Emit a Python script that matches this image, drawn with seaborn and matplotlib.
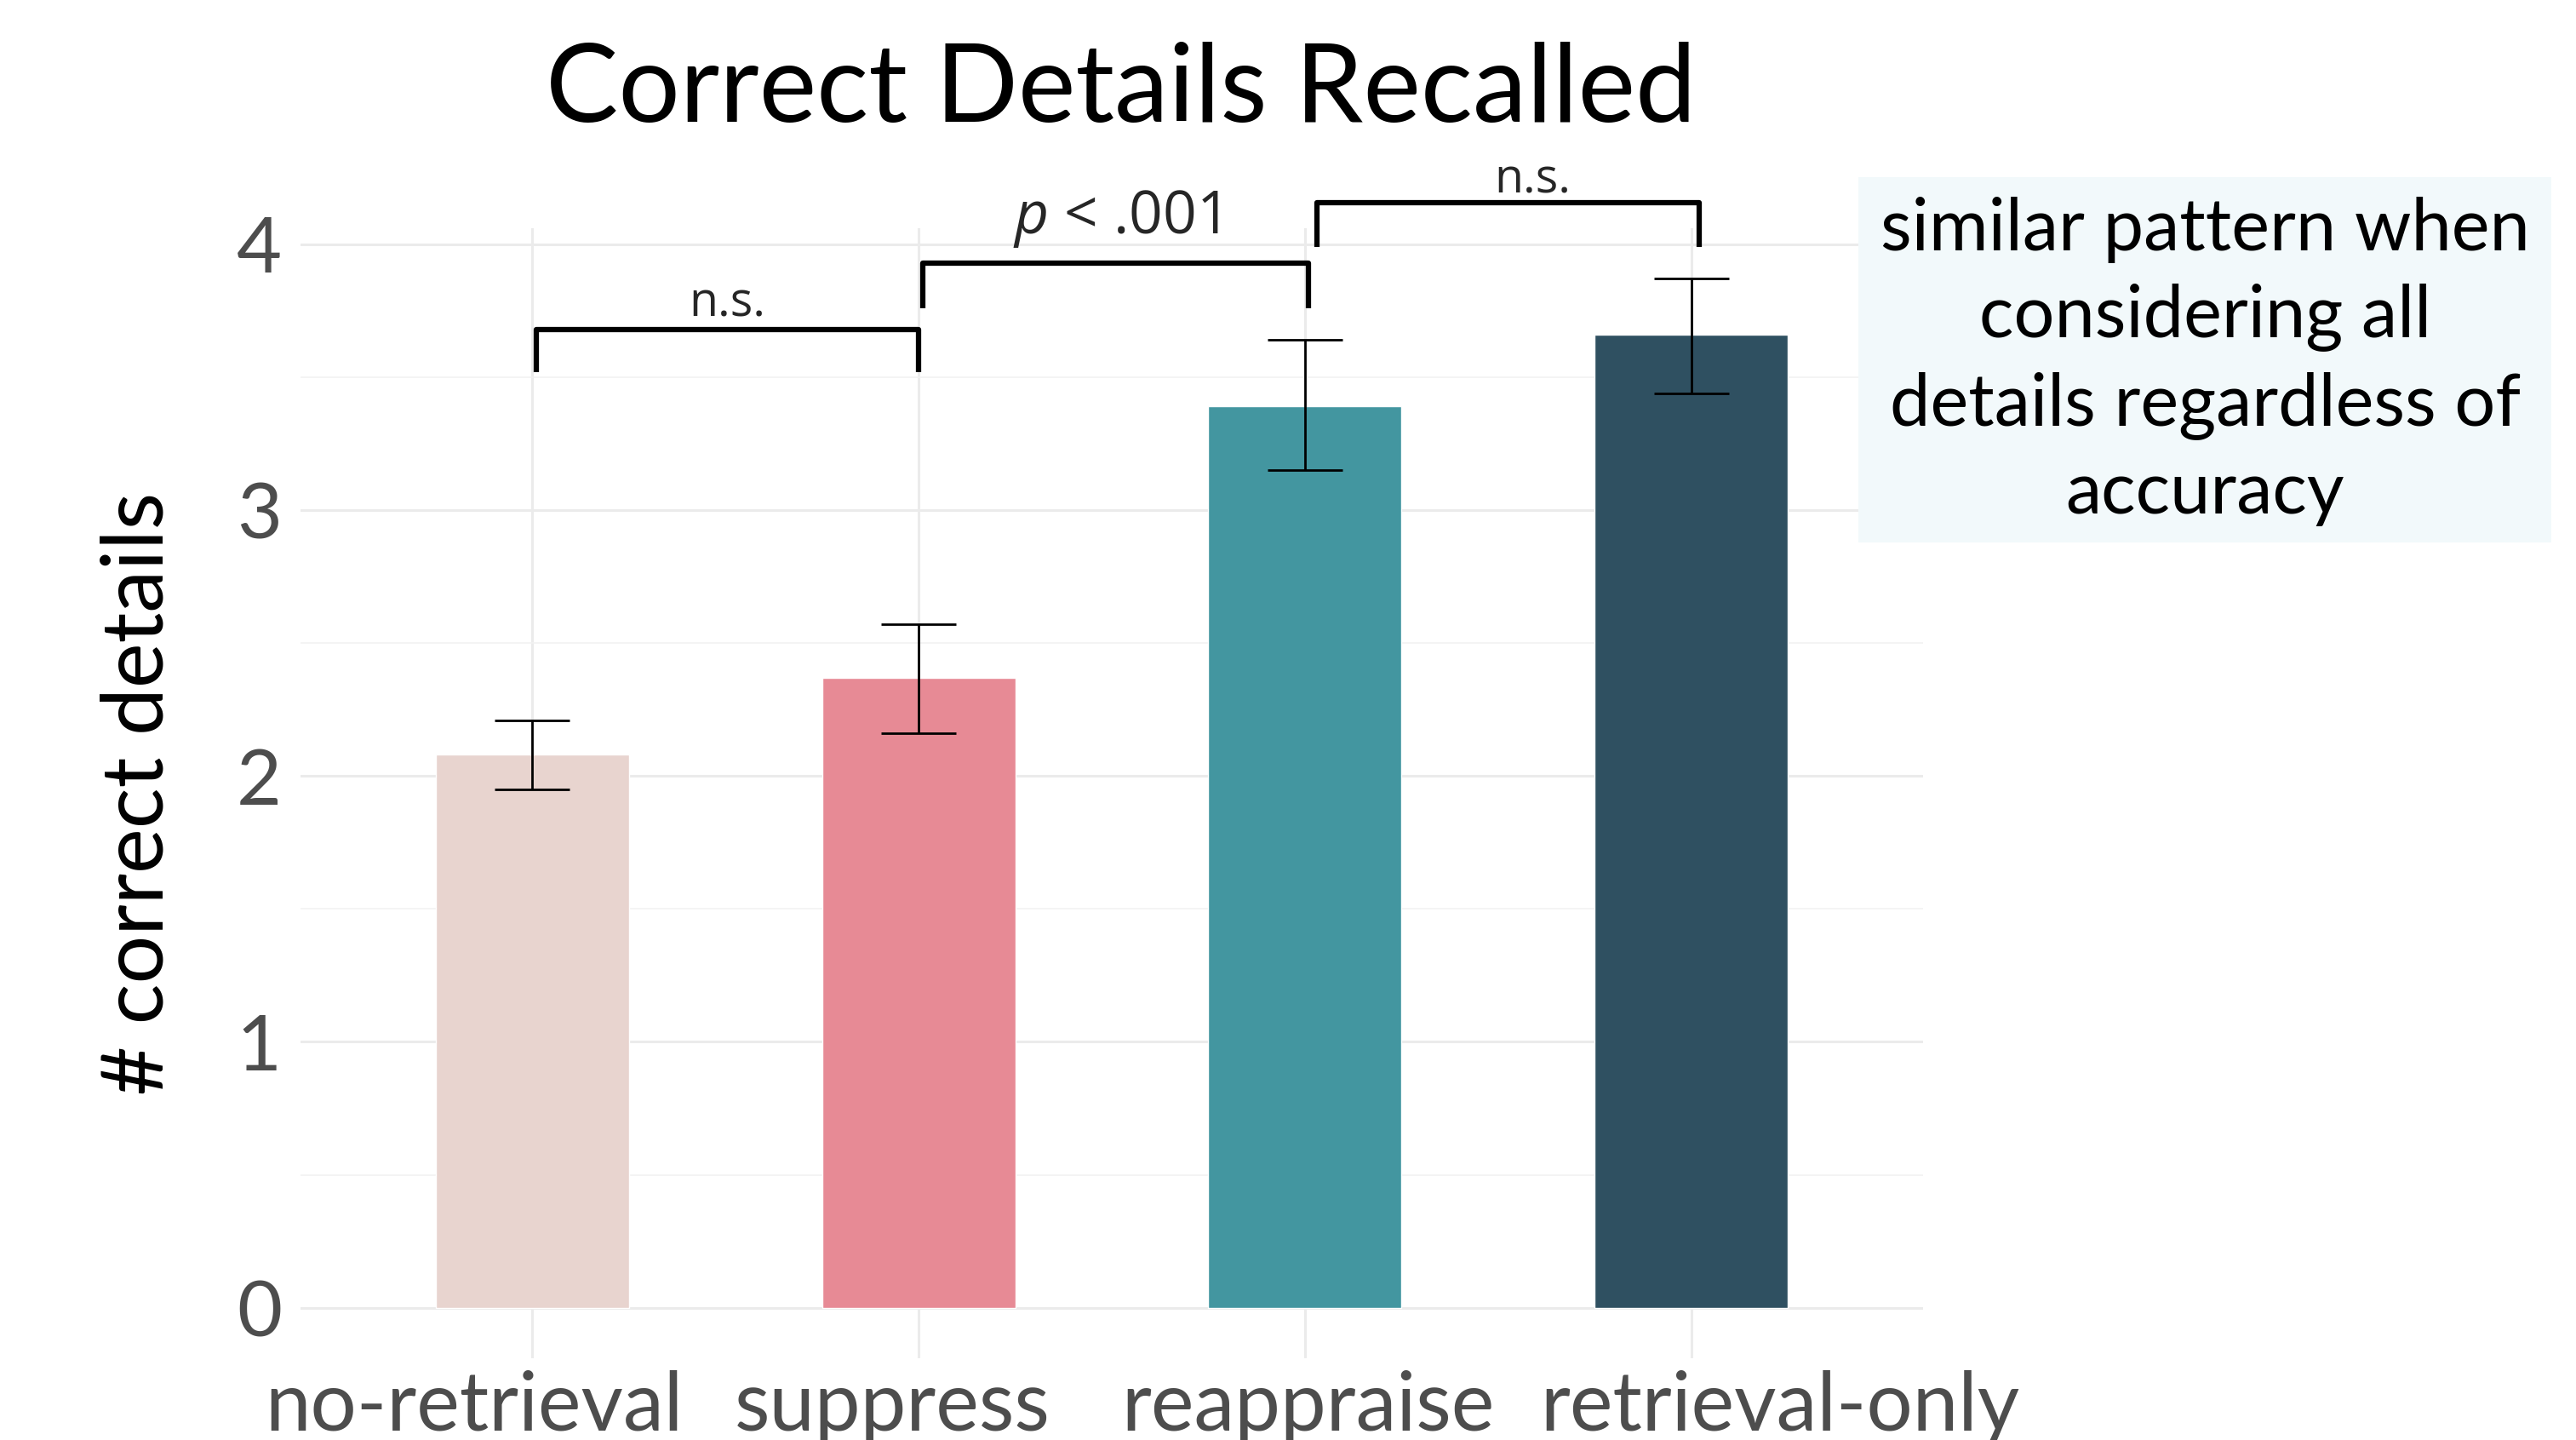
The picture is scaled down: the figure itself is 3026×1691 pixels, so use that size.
import numpy as np
import pandas as pd
import matplotlib
matplotlib.use("Agg")
import matplotlib.pyplot as plt
import matplotlib.transforms as mtransforms
import seaborn as sns
from matplotlib.patches import Rectangle

# data
conditions = ["no-retrieval", "suppress", "reappraise", "retrieval-only"]
means = [2.08, 2.37, 3.39, 3.66]
ci_low = [1.95, 2.16, 3.15, 3.44]
ci_high = [2.21, 2.57, 3.64, 3.87]
bar_colors = ["#E8D4CF", "#E78A95", "#4396A0", "#2F5061"]

# significance brackets
br_left = [0.01, 1.01, 2.03]
br_right = [1.0, 2.01, 3.02]
br_bottom = [3.52, 3.76, 3.99]
br_top = [3.68, 3.93, 4.157]
br_labels = ["n.s.", "$p$ < .001", "n.s."]
br_sizes = [40, 50, 40]
br_text_dx = [0.0, 0.0, 0.064]
br_text_dy = [0.05, 0.11, 0.037]

note = "similar pattern when\nconsidering all\ndetails regardless of\naccuracy"

# x tick labels in the original sit a little off-centre (in px)
label_shift = [-69, -31, 4, 104]

sns.set_theme(style="whitegrid")
plt.rcParams['font.family'] = ['Lato', 'DejaVu Sans']
plt.rcParams['mathtext.fontset'] = 'custom'
plt.rcParams['mathtext.it'] = 'Open Sans:italic'
plt.rcParams['mathtext.rm'] = 'Open Sans'

df = pd.DataFrame({"condition": conditions, "mean": means})

fig = plt.figure(figsize=(30.26, 16.91), dpi=100)
ax = fig.add_axes([0.1167, 0.0568, 0.6298, 0.7847])
ax.set_facecolor("none")

sns.barplot(data=df, x="condition", y="mean", hue="condition", palette=bar_colors,
            width=0.5, legend=False, ax=ax, saturation=1, zorder=3)

x = np.arange(len(conditions))
ax.errorbar(x, means, yerr=[np.array(means) - np.array(ci_low), np.array(ci_high) - np.array(means)],
            fmt="none", ecolor="black", elinewidth=2.0, capsize=32, capthick=2.0, zorder=4)

ax.set_xlim(-0.6, 3.6)
ax.set_ylim(-0.19, 4.06)
ax.set_yticks([0, 1, 2, 3, 4])
ax.set_yticks([0.5, 1.5, 2.5, 3.5], minor=True)
ax.grid(True, which="major", color="#EBEBEB", linewidth=2.2, zorder=0)
ax.grid(True, which="minor", axis="y", color="#F2F2F2", linewidth=1.2, zorder=0)
ax.set_axisbelow(True)
for s in ax.spines.values():
    s.set_visible(False)
ax.tick_params(axis="both", which="both", length=0, labelsize=66, labelcolor="#4D4D4D")
ax.tick_params(axis="x", pad=10, labelsize=69)
ax.tick_params(axis="y", pad=16)
ax.set_xlabel("")
ax.set_ylabel("# correct details", fontsize=72, color="black", labelpad=50)

for lbl, dx in zip(ax.get_xticklabels(), label_shift):
    lbl.set_transform(lbl.get_transform() + mtransforms.ScaledTranslation(dx / 100, 0, fig.dpi_scale_trans))

# brackets above bars
for x0, x1, yb, yt, lab, fs, tdx, tdy in zip(br_left, br_right, br_bottom, br_top, br_labels,
                                             br_sizes, br_text_dx, br_text_dy):
    ax.plot([x0, x0, x1, x1], [yb, yt, yt, yb], color="black", lw=4.5,
            solid_joinstyle="round", solid_capstyle="butt", clip_on=False, zorder=5)
    ax.text((x0 + x1) / 2 + tdx, yt + tdy, lab, ha="center", va="baseline", fontsize=fs,
            family=["Open Sans", "DejaVu Sans"], clip_on=False)

fig.text(0.435, 0.971, "Correct Details Recalled", ha="center", va="top", fontsize=92, color="black")

fig.add_artist(Rectangle((0.7214, 0.6233), 0.269, 0.2537, transform=fig.transFigure,
                         facecolor="#F2F9FB", edgecolor="none", zorder=10))
fig.text(0.856, 0.749, note, ha="center", va="center", fontsize=61, linespacing=1.38,
         color="black", zorder=11)

fig.savefig("out.png", dpi=100)
